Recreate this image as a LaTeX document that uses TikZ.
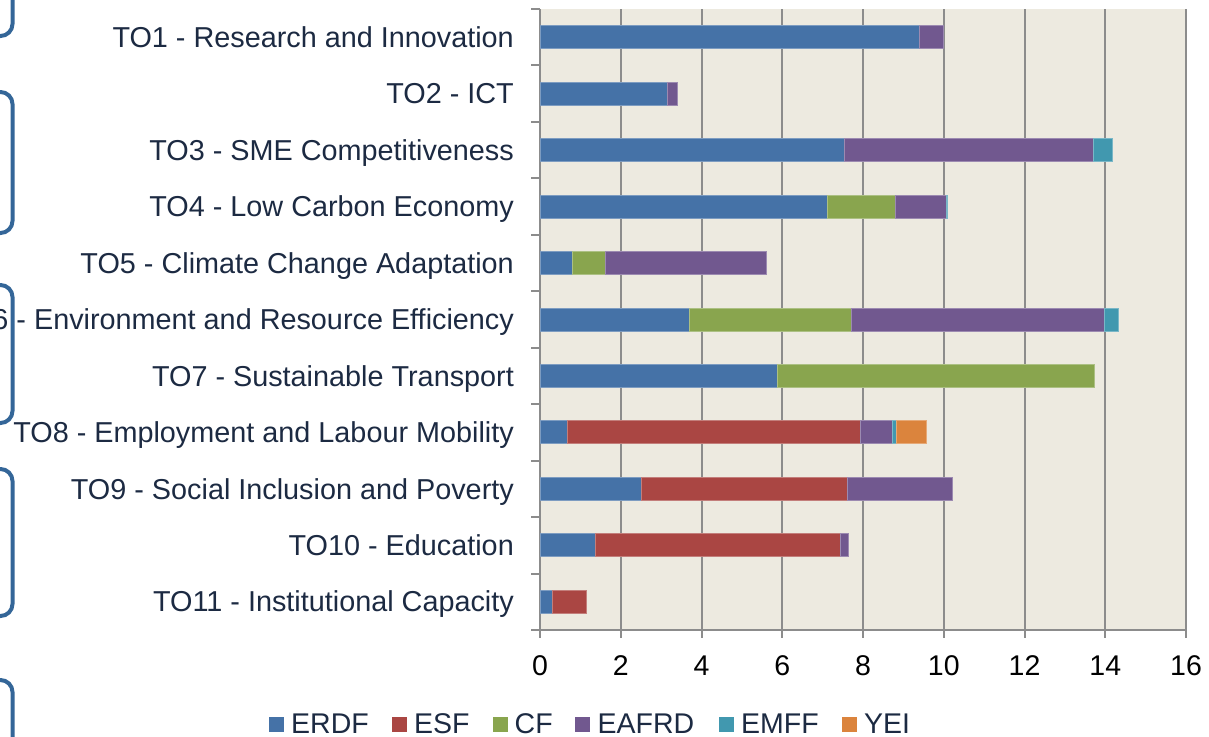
\documentclass[tikz,border=0pt]{standalone}
\usepackage{fontspec}
\setmainfont{Liberation Sans}
\definecolor{cERDF}{RGB}{69,114,167}
\definecolor{cESF}{RGB}{170,70,67}
\definecolor{cCF}{RGB}{137,165,78}
\definecolor{cEAFRD}{RGB}{113,88,143}
\definecolor{cEMFF}{RGB}{65,152,175}
\definecolor{cYEI}{RGB}{219,132,61}
\definecolor{plotbg}{RGB}{237,234,224}
\definecolor{gridc}{RGB}{140,140,140}
\definecolor{navy}{RGB}{28,42,66}
\definecolor{brk}{RGB}{52,102,152}
\newcommand\seg[4]{\path[#1] ({540+40.375*#3},{9+56.45*(#2-0.5)-11.5}) rectangle ({540+40.375*#4},{9+56.45*(#2-0.5)+11.5});}
\tikzset{
  erdf/.style={fill=cERDF, draw=cERDF!70!white, line width=0.8pt},
  esf/.style={fill=cESF, draw=cESF!70!white, line width=0.8pt},
  cf/.style={fill=cCF, draw=cCF!70!white, line width=0.8pt},
  eafrd/.style={fill=cEAFRD, draw=cEAFRD!70!white, line width=0.8pt},
  emff/.style={fill=cEMFF, draw=cEMFF!70!white, line width=0.8pt},
  yei/.style={fill=cYEI, draw=cYEI!70!white, line width=0.8pt},
  catlabel/.style={anchor=base east, inner sep=0pt, text=navy, font=\fontsize{28.8}{32}\selectfont},
  ticklabel/.style={anchor=base, inner sep=0pt, text=black, font=\fontsize{28.5}{32}\selectfont},
  legtext/.style={anchor=base west, inner sep=0pt, text=navy, font=\fontsize{28.5}{32}\selectfont},
  gridline/.style={draw=gridc, line width=2pt},
  bracket/.style={draw=brk, line width=4pt, rounded corners=12pt},
}
\begin{document}
\begin{tikzpicture}[x=1pt,y=-1pt]
\useasboundingbox (0,0) rectangle (1209,736);
\clip (0,0) rectangle (1209,736);
% brackets
\draw[bracket] (12.5,-30) -- (12.5,36) -- (-30,36);
\draw[bracket] (-30,92) -- (12.5,92) -- (12.5,233) -- (-30,233);
\draw[bracket] (-30,285) -- (12.5,285) -- (12.5,423) -- (-30,423);
\draw[bracket] (-30,469) -- (12.5,469) -- (12.5,616) -- (-30,616);
\draw[bracket] (-30,680) -- (12.5,680) -- (12.5,780);
% plot area
\fill[plotbg] (540,9) rectangle (1186,630);
\foreach \k in {1,2,3,4,5,6,7,8} {
  \draw[gridline] ({540+80.75*\k},9) -- ({540+80.75*\k},638);
}
\draw[gridline] (540,9) -- (540,638);
\draw[gridline] (531,630) -- (1186,630);
\foreach \k in {0,...,10} {
  \draw[gridline] (531,{9+56.45*\k}) -- (540,{9+56.45*\k});
}
% bars
\seg{erdf}{1}{0}{9.39}\seg{eafrd}{1}{9.39}{9.98}
\seg{erdf}{2}{0}{3.16}\seg{eafrd}{2}{3.16}{3.40}
\seg{erdf}{3}{0}{7.55}\seg{eafrd}{3}{7.55}{13.70}\seg{emff}{3}{13.70}{14.18}
\seg{erdf}{4}{0}{7.13}\seg{cf}{4}{7.13}{8.79}\seg{eafrd}{4}{8.79}{10.06}\seg{emff}{4}{10.06}{10.10}
\seg{erdf}{5}{0}{0.79}\seg{cf}{5}{0.79}{1.63}\seg{eafrd}{5}{1.63}{5.60}
\seg{erdf}{6}{0}{3.69}\seg{cf}{6}{3.69}{7.70}\seg{eafrd}{6}{7.70}{13.97}\seg{emff}{6}{13.97}{14.32}
\seg{erdf}{7}{0}{5.87}\seg{cf}{7}{5.87}{13.72}
\seg{erdf}{8}{0}{0.69}\seg{esf}{8}{0.69}{7.93}\seg{eafrd}{8}{7.93}{8.72}\seg{emff}{8}{8.72}{8.82}\seg{yei}{8}{8.82}{9.58}
\seg{erdf}{9}{0}{2.50}\seg{esf}{9}{2.50}{7.61}\seg{eafrd}{9}{7.61}{10.22}
\seg{erdf}{10}{0}{1.36}\seg{esf}{10}{1.36}{7.43}\seg{eafrd}{10}{7.43}{7.65}
\seg{erdf}{11}{0}{0.30}\seg{esf}{11}{0.30}{1.16}
% category labels
\node[catlabel] (c1) at (514,{9+56.45*0.5+10.2}) {TO1 - Research and Innovation};
\node[catlabel] (c2) at (514,{9+56.45*1.5+10.2}) {TO2 - ICT};
\node[catlabel] (c3) at (514,{9+56.45*2.5+10.2}) {TO3 - SME Competitiveness};
\node[catlabel] (c4) at (514,{9+56.45*3.5+10.2}) {TO4 - Low Carbon Economy};
\node[catlabel] (c5) at (514,{9+56.45*4.5+10.2}) {TO5 - Climate Change Adaptation};
\node[catlabel] (c6) at (514,{9+56.45*5.5+10.2}) {TO6 - Environment and Resource Efficiency};
\node[catlabel] (c7) at (514,{9+56.45*6.5+10.2}) {TO7 - Sustainable Transport};
\node[catlabel] (c8) at (514,{9+56.45*7.5+10.2}) {TO8 - Employment and Labour Mobility};
\node[catlabel] (c9) at (514,{9+56.45*8.5+10.2}) {TO9 - Social Inclusion and Poverty};
\node[catlabel] (c10) at (514,{9+56.45*9.5+10.2}) {TO10 - Education};
\node[catlabel] (c11) at (514,{9+56.45*10.5+10.2}) {TO11 - Institutional Capacity};
% tick labels
\foreach \v in {0,2,...,16} {
  \node[ticklabel] (t\v) at ({540+40.375*\v},675) {\v};
}
% legend
\fill[cERDF] (269,717) rectangle (284,732);
\node[legtext] (lERDF) at (291,733.3) {ERDF};
\fill[cESF] (392,717) rectangle (407,732);
\node[legtext] (lESF) at (414,733.3) {ESF};
\fill[cCF] (493,717) rectangle (508,732);
\node[legtext] (lCF) at (514.5,733.3) {CF};
\fill[cEAFRD] (575,717) rectangle (590,732);
\node[legtext] (lEAFRD) at (597.5,733.3) {EAFRD};
\fill[cEMFF] (719,717) rectangle (734,732);
\node[legtext] (lEMFF) at (741,733.3) {EMFF};
\fill[cYEI] (842,717) rectangle (857,732);
\node[legtext] (lYEI) at (864,733.3) {YEI};
\end{tikzpicture}
\end{document}
